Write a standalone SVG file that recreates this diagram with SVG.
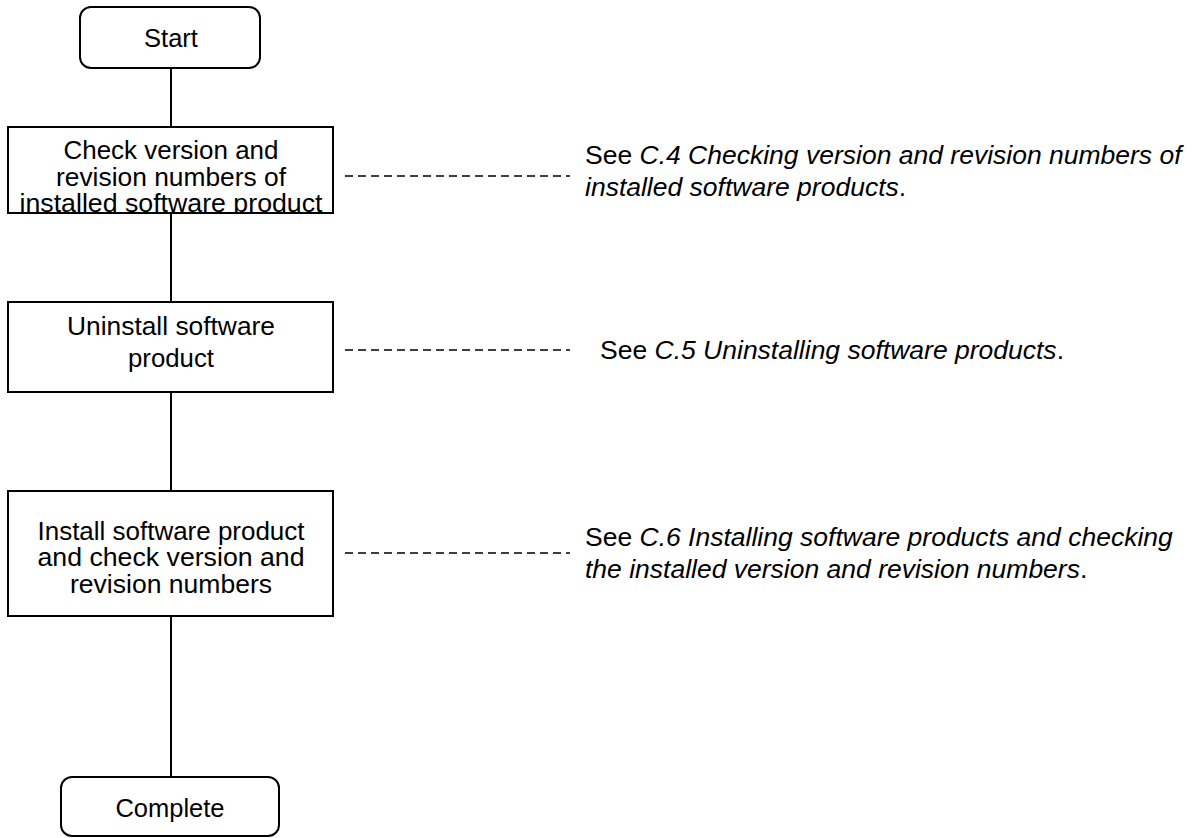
<svg xmlns="http://www.w3.org/2000/svg" width="1200" height="838" viewBox="0 0 1200 838">
<style>
.box{fill:#fff;stroke:#000;stroke-width:2}
.t{font-family:"Liberation Sans",Arial,sans-serif;font-size:25.5px;fill:#000;text-anchor:middle}
.r{font-family:"Liberation Sans",Arial,sans-serif;font-size:26.5px;fill:#000}
.i{font-style:italic}
.ln{stroke:#000;stroke-width:2;fill:none}
.dl{stroke:#000;stroke-width:1.5;stroke-dasharray:8 5;fill:none}
</style>
<defs>
<clipPath id="c1"><rect x="8" y="127" width="325" height="86"/></clipPath>
</defs>
<rect width="1200" height="838" fill="#fff"/>
<g id="connectors">
<line class="ln" x1="171" y1="68" x2="171" y2="127"/>
<line class="ln" x1="171" y1="213" x2="171" y2="302"/>
<line class="ln" x1="171" y1="392" x2="171" y2="491"/>
<line class="ln" x1="171" y1="616" x2="171" y2="777"/>
<line class="dl" x1="345" y1="176" x2="570" y2="176"/>
<line class="dl" x1="345" y1="350" x2="570" y2="350"/>
<line class="dl" x1="345" y1="553" x2="570" y2="553"/>
</g>
<g id="start">
<rect class="box" x="80" y="7" width="180" height="61" rx="11"/>
<text class="t" x="171" y="47">Start</text>
</g>
<g id="check">
<rect class="box" x="8" y="127" width="325" height="86"/>
<g clip-path="url(#c1)">
<text class="t" x="171" y="159" textLength="215" lengthAdjust="spacingAndGlyphs">Check version and</text>
<text class="t" x="171" y="185.5" textLength="230" lengthAdjust="spacingAndGlyphs">revision numbers of</text>
<text class="t" x="171" y="212" textLength="303" lengthAdjust="spacingAndGlyphs">installed software product</text>
</g>
</g>
<g id="uninstall">
<rect class="box" x="8" y="302" width="325" height="90"/>
<text class="t" x="171" y="335" textLength="208" lengthAdjust="spacingAndGlyphs">Uninstall software</text>
<text class="t" x="171" y="367" textLength="86" lengthAdjust="spacingAndGlyphs">product</text>
</g>
<g id="install">
<rect class="box" x="8" y="491" width="325" height="125"/>
<text class="t" x="171" y="540" textLength="267" lengthAdjust="spacingAndGlyphs">Install software product</text>
<text class="t" x="171" y="566" textLength="267" lengthAdjust="spacingAndGlyphs">and check version and</text>
<text class="t" x="171" y="593" textLength="202" lengthAdjust="spacingAndGlyphs">revision numbers</text>
</g>
<g id="complete">
<rect class="box" x="61" y="777" width="218" height="59" rx="11"/>
<text class="t" x="170" y="817">Complete</text>
</g>
<g id="ref-c4">
<text class="r" x="585" y="164">See <tspan class="i">C.4 Checking version and revision numbers of</tspan></text>
<text class="r i" x="585" y="196">installed software products<tspan font-style="normal">.</tspan></text>
</g>
<g id="ref-c5">
<text class="r" x="600" y="359">See <tspan class="i">C.5 Uninstalling software products</tspan>.</text>
</g>
<g id="ref-c6">
<text class="r" x="585" y="546">See <tspan class="i">C.6 Installing software products and checking</tspan></text>
<text class="r" x="585" y="578"><tspan class="i">the installed version and revision numbers</tspan>.</text>
</g>
</svg>
